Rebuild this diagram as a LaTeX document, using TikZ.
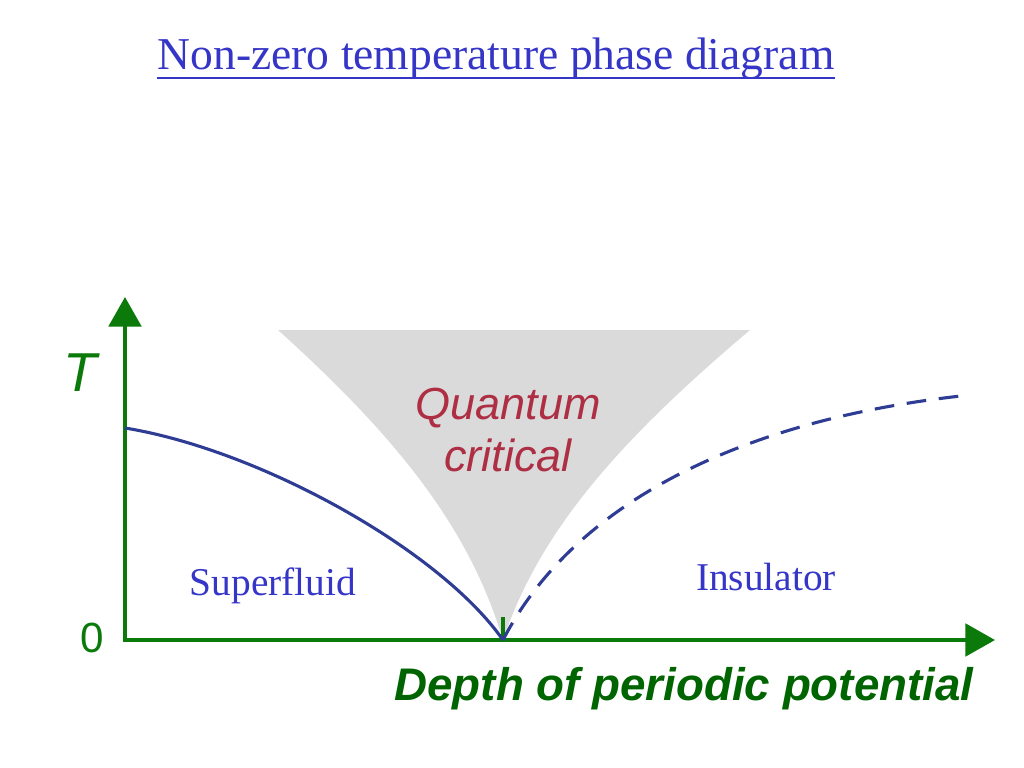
\documentclass[tikz,border=0pt]{standalone}
\usepackage{fontspec}
\setmainfont{Liberation Serif}
\setsansfont{Liberation Sans}
\usepackage{tikz}
\usetikzlibrary{arrows.meta}

\definecolor{titleblue}{HTML}{3535C8}
\definecolor{curveblue}{HTML}{2E3C94}
\definecolor{axisgreen}{HTML}{0B7A0B}
\definecolor{labelgreen}{HTML}{006400}
\definecolor{qcred}{HTML}{AE2E44}
\definecolor{qcgrey}{HTML}{DADADA}

\begin{document}
\begin{tikzpicture}[x=0.025cm, y=-0.025cm,
      every node/.style={inner sep=0pt},
      axis/.style={axisgreen, line width=2.8pt, -{Triangle[length=21pt,width=23pt]}},
      phase/.style={font=\fontsize{28}{32}\selectfont, text=titleblue},
      boundary/.style={curveblue, line width=2.2pt}]
    \useasboundingbox (0,0) rectangle (1024,768);
    % title
    \node[anchor=base, font=\fontsize{32.4}{38}\selectfont, text=titleblue] (title) at (496,70)
      {Non-zero temperature phase diagram};
    \draw[titleblue, line width=1.4pt] ([yshift=-6pt]title.base west) -- ([yshift=-6pt]title.base east);
    % quantum critical fan
    \coordinate (origin) at (125,640);
    \coordinate (qcp) at (503,640);
    \coordinate (fanleft) at (278,330);
    \coordinate (fanright) at (750,330);
    \fill[qcgrey] (fanleft) -- (fanright) .. controls (620,440) and (540,530) .. (qcp)
      .. controls (470,530) and (400,440) .. (fanleft) -- cycle;
    \node[font=\sffamily\itshape\fontsize{32}{37}\selectfont, text=qcred, align=center] (qc) at (508,430)
      {Quantum\\critical};
    % axes
    \coordinate (ytip) at (125,297);
    \coordinate (xtip) at (995,640);
    \draw[axis] ([yshift=-1.4pt]origin) -- (ytip);
    \draw[axis] ([xshift=-1.4pt]origin) -- (xtip);
    \draw[axisgreen, line width=2.2pt] (qcp) -- ++(0,-23);
    \node[font=\sffamily\itshape\fontsize{39}{42}\selectfont, text=axisgreen] (tlabel) at (80,373) {T};
    \node[font=\sffamily\fontsize{30}{33}\selectfont, text=axisgreen] (zero) at (92,638) {0};
    \node[anchor=base, font=\sffamily\bfseries\itshape\fontsize{32.5}{36}\selectfont, text=labelgreen] (xlabel) at (684,700)
      {Depth of periodic potential};
    % phase boundaries
    \coordinate (tcstart) at (125,428);
    \coordinate (dashend) at (970,395);
    \draw[boundary] (tcstart) .. controls (260,450) and (440,550) .. (qcp);
    \draw[boundary, dash pattern=on 14pt off 9pt] (qcp) .. controls (570,510) and (730,420) .. (dashend);
    % phases
    \node[phase, anchor=base] (superfluid) at (273,595) {Superfluid};
    \node[phase, anchor=base] (insulator) at (766,590) {Insulator};
\end{tikzpicture}
\end{document}
